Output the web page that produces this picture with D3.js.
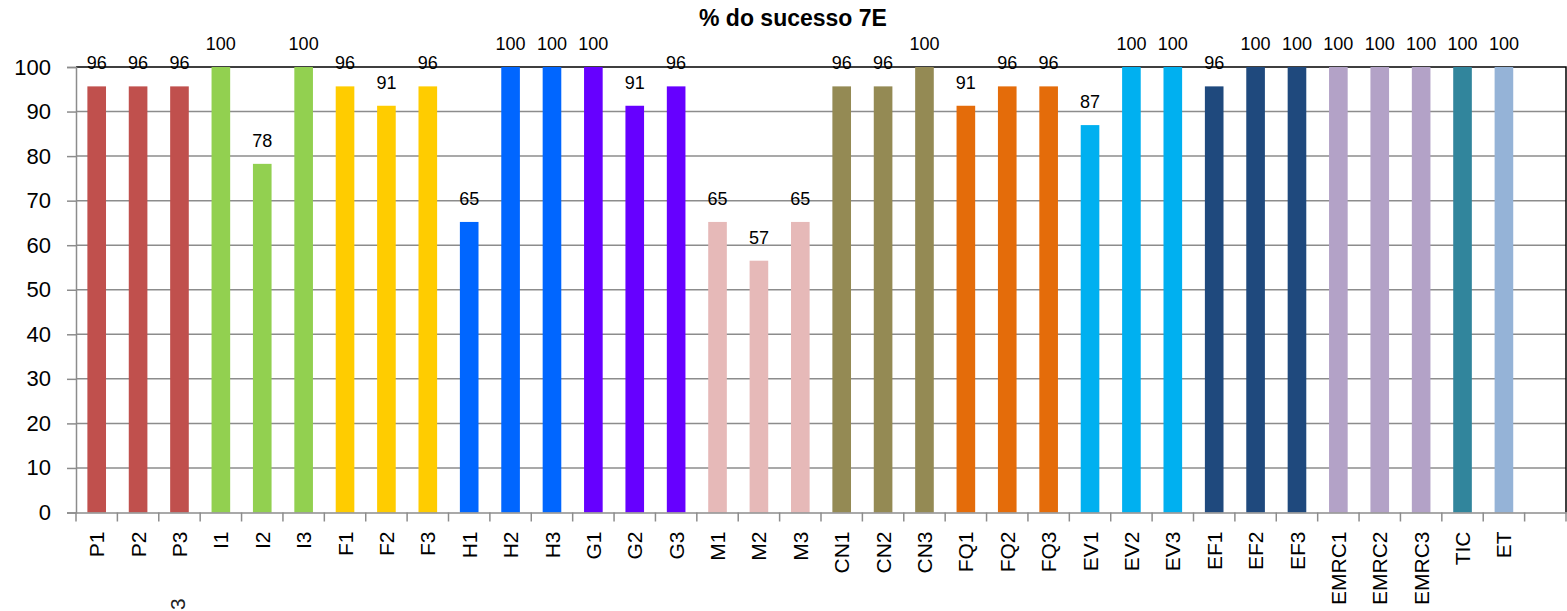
<!DOCTYPE html>
<html>
<head>
<meta charset="utf-8">
<script src="https://cdn.jsdelivr.net/npm/d3@7"></script>
<style>
  html, body { margin: 0; padding: 0; background: #fff; }
  svg { display: block; font-family: "Liberation Sans", Arial, sans-serif; }
</style>
</head>
<body>
<svg id="chart" width="1567" height="611"></svg>
<script>
// ---- data ----
const title = "% do sucesso 7E";
const categories = ["P1","P2","P3","I1","I2","I3","F1","F2","F3","H1","H2","H3","G1","G2","G3",
  "M1","M2","M3","CN1","CN2","CN3","FQ1","FQ2","FQ3","EV1","EV2","EV3","EF1","EF2","EF3",
  "EMRC1","EMRC2","EMRC3","TIC","ET",""];
const values = [95.65,95.65,95.65,100,78.26,100,95.65,91.3,95.65,65.22,100,100,100,91.3,95.65,
  65.22,56.52,65.22,95.65,95.65,100,91.3,95.65,95.65,86.96,100,100,95.65,100,100,
  100,100,100,100,100,null];
const groups = ["P","P","P","I","I","I","F","F","F","H","H","H","G","G","G",
  "M","M","M","CN","CN","CN","FQ","FQ","FQ","EV","EV","EV","EF","EF","EF",
  "EMRC","EMRC","EMRC","TIC","ET",""];
const groupNames = ["P","I","F","H","G","M","CN","FQ","EV","EF","EMRC","TIC","ET"];
const groupColors = ["#C0504D","#92D050","#FFCC00","#0066FF","#6600FF","#E6B9B8","#948A54",
  "#E46C0A","#00B0F0","#1F497D","#B3A2C7","#31859C","#95B3D7"];
const yTicks = [0,10,20,30,40,50,60,70,80,90,100];

// ---- layout ----
const svg = d3.select("#chart");
const mLeft = 76, mRight = 1566, mTop = 67, mBottom = 512.5;

const x = d3.scaleBand().domain(categories).range([mLeft, mRight])
  .paddingInner(0.55).paddingOuter(0.275);
const y = d3.scaleLinear().domain([0, 100]).range([mBottom, mTop]);
const color = d3.scaleOrdinal().domain(groupNames).range(groupColors);
const step = x.step();

// gridlines
svg.append("g").selectAll("line").data(yTicks.filter(d => d > 0 && d < 100)).join("line")
  .attr("x1", mLeft).attr("x2", mRight)
  .attr("y1", d => y(d)).attr("y2", d => y(d))
  .attr("stroke", "#8c8c8c").attr("stroke-width", 1.5);

// plot border top/right (black)
svg.append("path")
  .attr("d", `M${mLeft},${y(100)}H${mRight}V${mBottom}`)
  .attr("fill", "none").attr("stroke", "#000").attr("stroke-width", 1.5);

// bars
const data = categories.map((c, i) => ({c, v: values[i], g: groups[i]})).filter(d => d.v != null);
svg.append("g").selectAll("rect").data(data).join("rect")
  .attr("x", d => x(d.c))
  .attr("width", x.bandwidth())
  .attr("y", d => y(d.v))
  .attr("height", d => y(0) - y(d.v))
  .attr("fill", d => color(d.g));

// data labels
svg.append("g").selectAll("text").data(data).join("text")
  .attr("x", d => x(d.c) + x.bandwidth() / 2)
  .attr("y", d => y(d.v) - 17)
  .attr("text-anchor", "middle")
  .attr("font-size", 18)
  .attr("fill", "#000")
  .text(d => Math.round(d.v));

// y axis
const yAxis = svg.append("g").attr("transform", `translate(${mLeft},0)`)
  .call(d3.axisLeft(y).tickValues(yTicks).tickSize(9).tickPadding(16));
yAxis.select(".domain").attr("stroke", "#8c8c8c").attr("stroke-width", 1.5);
yAxis.selectAll(".tick line").attr("stroke", "#8c8c8c").attr("stroke-width", 1.5);
yAxis.selectAll(".tick text").attr("font-size", 22).attr("fill", "#000")
  .attr("font-family", "Liberation Sans, Arial, sans-serif");

// x axis (labels at band centres, ticks between categories)
const xAxis = svg.append("g").attr("transform", `translate(0,${mBottom})`)
  .call(d3.axisBottom(x).tickSize(0).tickPadding(0));
xAxis.select(".domain").attr("stroke", "#8c8c8c").attr("stroke-width", 1.5);
xAxis.selectAll(".tick text")
  .attr("font-size", 21).attr("fill", "#000")
  .attr("font-family", "Liberation Sans, Arial, sans-serif")
  .attr("text-anchor", "end")
  .attr("transform", "rotate(-90)")
  .attr("x", -19).attr("y", 0).attr("dy", "0.36em");
xAxis.append("g").selectAll("line").data(d3.range(categories.length + 1)).join("line")
  .attr("x1", i => mLeft + i * step).attr("x2", i => mLeft + i * step)
  .attr("y1", 0).attr("y2", 9)
  .attr("stroke", "#8c8c8c").attr("stroke-width", 1.5);

// title
svg.append("text")
  .attr("x", 793).attr("y", 26)
  .attr("text-anchor", "middle")
  .attr("font-size", 23).attr("font-weight", "bold").attr("fill", "#000")
  .text(title);

// stray label fragment at the bottom
svg.append("text")
  .attr("transform", "translate(185,610) rotate(-90)")
  .attr("text-anchor", "start")
  .attr("font-size", 21).attr("fill", "#222")
  .text("3");
</script>
</body>
</html>
